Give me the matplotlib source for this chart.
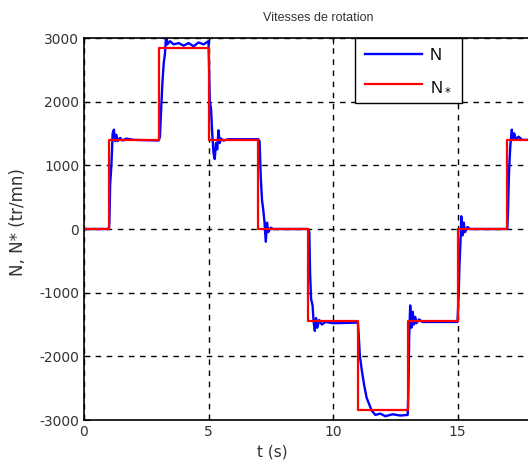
import matplotlib
matplotlib.use("Agg")
import matplotlib.pyplot as plt

plt.rcParams["font.family"] = ["DejaVu Sans"]
plt.rcParams["axes.unicode_minus"] = False

# reference speed N* (step profile)
ref_t = [0, 1, 1, 3, 3, 5, 5, 7, 7, 9, 9, 11, 11, 13, 13, 15, 15, 17, 17, 20]
ref_n = [0, 0, 1400, 1400, 2850, 2850, 1400, 1400, 0, 0,
         -1450, -1450, -2850, -2850, -1450, -1450, 0, 0, 1400, 1400]

meas_t = [0, 1.0, 1.02, 1.05, 1.1, 1.15, 1.2, 1.25, 1.3, 1.35, 1.45, 1.55, 1.7, 2.0, 3.0,
          3.05, 3.1, 3.15, 3.2, 3.25, 3.3, 3.35, 3.45, 3.6, 3.8, 4.0, 4.2, 4.4, 4.6, 4.8, 5.0,
          5.02, 5.05, 5.1, 5.15, 5.2, 5.25, 5.3, 5.35, 5.4, 5.45, 5.5, 5.6, 5.8, 7.0,
          7.05, 7.1, 7.15, 7.2, 7.25, 7.3, 7.35, 7.4, 7.5, 7.6, 9.0,
          9.05, 9.08, 9.12, 9.18, 9.22, 9.27, 9.32, 9.37, 9.45, 9.55, 9.7, 10.0, 11.0,
          11.03, 11.08, 11.15, 11.25, 11.35, 11.45, 11.55, 11.7, 11.9, 12.1, 12.4, 12.7, 13.0,
          13.03, 13.06, 13.1, 13.15, 13.2, 13.25, 13.3, 13.35, 13.45, 13.6, 15.0,
          15.05, 15.08, 15.12, 15.15, 15.2, 15.25, 15.3, 15.4, 15.5, 17.0,
          17.03, 17.07, 17.12, 17.18, 17.23, 17.28, 17.35, 17.45, 17.6, 20.0]
meas_n = [0, 0, 100, 700, 1000, 1500, 1560, 1380, 1480, 1380, 1430, 1390, 1420, 1400, 1390,
          1450, 1900, 2300, 2600, 2750, 3050, 2900, 2950, 2900, 2920, 2880, 2920, 2870, 2930, 2900, 2950,
          2600, 2000, 1900, 1500, 1200, 1100, 1350, 1250, 1550, 1350, 1420, 1390, 1410, 1410,
          1380, 800, 450, 300, 100, -200, 100, -50, 20, 0, 0,
          -50, -700, -1100, -1200, -1450, -1600, -1400, -1550, -1430, -1500, -1460, -1480, -1470,
          -1650, -2000, -2200, -2450, -2650, -2750, -2850, -2920, -2900, -2940, -2910, -2930, -2920,
          -2500, -1700, -1200, -1550, -1300, -1500, -1380, -1480, -1420, -1460, -1460,
          -1000, -550, -200, 200, -100, 100, -50, 30, 0, 0,
          300, 900, 1300, 1560, 1400, 1500, 1400, 1450, 1400, 1400]

xticks = [0, 5, 10, 15]
yticks = [-3000, -2000, -1000, 0, 1000, 2000, 3000]

fig = plt.figure(figsize=(5.28, 4.61), dpi=100)
W, H = 528, 461
ax = fig.add_axes([84 / W, (H - 420) / H, 498 / W, 382 / H])

ax.plot(meas_t, meas_n, color="#0000ff", lw=1.7, label="N")
ax.plot(ref_t, ref_n, color="#ff0000", lw=1.6, label=r"N$_*$")

ax.set_xlim(0, 20)
ax.set_ylim(-3000, 3000)
ax.set_xticks(xticks)
ax.set_yticks(yticks)
ax.tick_params(direction="in", labelsize=10, colors="black", labelcolor="#333333",
               top=True, right=True, length=4)
ax.grid(True, color="black", linestyle=(0, (4, 4)), linewidth=1)
for s in ax.spines.values():
    s.set_linewidth(1.2)

leg = ax.legend(loc="upper left", bbox_to_anchor=((355 - 84) / 498, 1.0),
                prop={"family": "Liberation Sans", "size": 12},
                handlelength=3.4, handletextpad=0.5, frameon=True, fancybox=False,
                framealpha=1, borderaxespad=0, labelspacing=0.9, borderpad=0.6)
leg.get_frame().set_edgecolor("black")
leg.get_frame().set_linewidth(1.0)

fig.text(318 / W, 1 - 18 / H, "Vitesses de rotation", ha="center", va="center",
         fontsize=9, color="#333333", family="Liberation Sans")
fig.text(272 / W, 1 - 452 / H, "t (s)", ha="center", va="center", fontsize=11,
         color="#333333")
fig.text(18 / W, 1 - 222 / H, "N, N* (tr/mn)", ha="center", va="center",
         rotation=90, fontsize=12, color="#333333")

fig.savefig("out.png", dpi=100)
